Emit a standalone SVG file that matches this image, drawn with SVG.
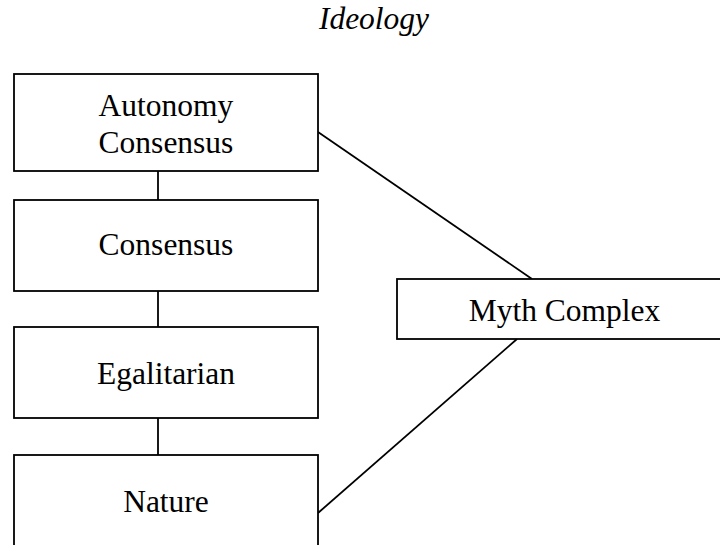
<svg xmlns="http://www.w3.org/2000/svg" width="720" height="545" viewBox="0 0 720 545">
  <style>
    .box { fill: #ffffff; stroke: #000000; stroke-width: 1.8; }
    .lbl { font-family: "Liberation Serif", "Times New Roman", serif; font-size: 31.5px; fill: #000000; text-anchor: middle; }
    .title { font-style: italic; }
    .link { stroke: #000000; stroke-width: 1.8; fill: none; }
  </style>
  <rect width="720" height="545" fill="#ffffff"/>

  <text class="lbl title" x="374" y="29">Ideology</text>

  <g id="connectors">
    <line class="link" x1="158" y1="171" x2="158" y2="200"/>
    <line class="link" x1="158" y1="291" x2="158" y2="327"/>
    <line class="link" x1="158" y1="418" x2="158" y2="455"/>
    <line class="link" x1="318" y1="132" x2="532" y2="279"/>
    <line class="link" x1="517" y1="339" x2="318" y2="513"/>
  </g>

  <g id="autonomy-consensus">
    <rect class="box" x="14" y="74" width="304" height="97"/>
    <text class="lbl" x="166" y="116">Autonomy</text>
    <text class="lbl" x="166" y="153">Consensus</text>
  </g>

  <g id="consensus">
    <rect class="box" x="14" y="200" width="304" height="91"/>
    <text class="lbl" x="166" y="255">Consensus</text>
  </g>

  <g id="egalitarian">
    <rect class="box" x="14" y="327" width="304" height="91"/>
    <text class="lbl" x="166" y="384">Egalitarian</text>
  </g>

  <g id="nature">
    <rect class="box" x="14" y="455" width="304" height="110"/>
    <text class="lbl" x="166" y="512">Nature</text>
  </g>

  <g id="myth-complex">
    <rect class="box" x="397" y="279" width="335" height="60"/>
    <text class="lbl" x="564.5" y="321">Myth Complex</text>
  </g>
</svg>
